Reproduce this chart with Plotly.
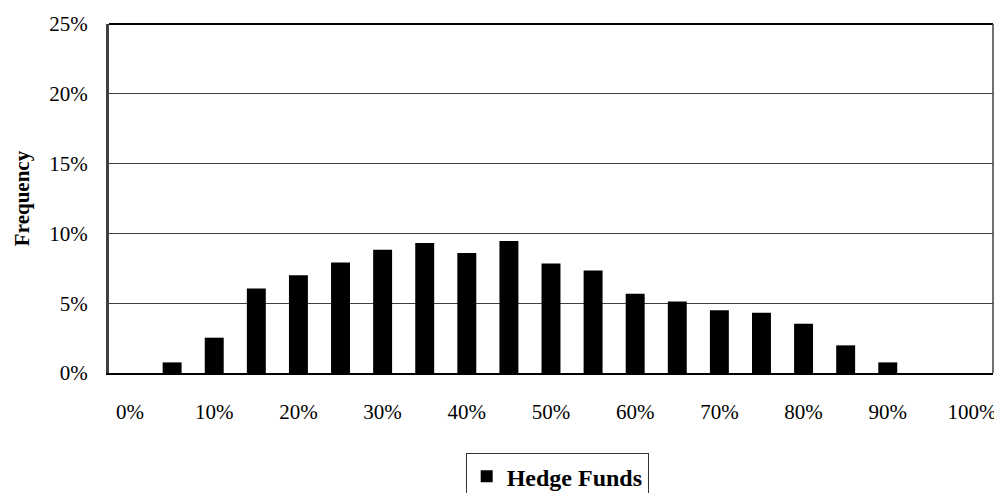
import plotly.graph_objects as go

categories = [f"{v}%" for v in range(0, 101, 5)]
frequency = [0, 0.76, 2.53, 6.05, 7.0, 7.92, 8.82, 9.31, 8.59, 9.45, 7.85,
             7.35, 5.68, 5.13, 4.49, 4.32, 3.53, 1.98, 0.76, 0, 0]
tick_labels = [f"{v}%" for v in range(0, 101, 10)]
y_ticks = [0, 5, 10, 15, 20, 25]
y_tick_text = [f"{v}%" for v in y_ticks]

FONT = "Liberation Serif, Times New Roman, serif"

fig = go.Figure()
fig.add_trace(go.Bar(
    x=categories, y=frequency, name="Hedge Funds",
    marker=dict(color="black", line=dict(width=0)),
    width=0.45,
))

# page body has an 8px margin, so the figure is offset by 8px
fig.update_layout(
    width=994, height=485,
    margin=dict(l=101, r=9, t=15.5, b=119.5, autoexpand=False),
    paper_bgcolor="white", plot_bgcolor="white",
    font=dict(family=FONT, size=22, color="black"),
    showlegend=True,
    legend=dict(
        x=0.507, y=-0.230, xanchor="center", yanchor="top",
        orientation="h",
        bordercolor="#333333", borderwidth=1,
        font=dict(family=FONT, size=24, color="black", weight="bold"),
        itemwidth=30,
    ),
    xaxis=dict(
        type="category", categoryorder="array", categoryarray=categories,
        tickmode="array", tickvals=tick_labels, ticktext=tick_labels,
        showgrid=False, showline=True, linecolor="black", linewidth=2,
        ticks="outside", ticklen=19, tickcolor="rgba(0,0,0,0)",
        mirror=False, zeroline=False,
        tickfont=dict(family=FONT, size=21),
    ),
    yaxis=dict(
        range=[0, 25], tickmode="array", tickvals=y_ticks, ticktext=y_tick_text,
        showgrid=True, gridcolor="#404040", gridwidth=1,
        showline=True, linecolor="#404040", linewidth=3,
        ticks="outside", ticklen=14, tickcolor="rgba(0,0,0,0)",
        zeroline=False,
        title=dict(text="<b>Frequency</b>", standoff=14,
                   font=dict(family=FONT, size=21)),
        tickfont=dict(family=FONT, size=21),
    ),
)

# plot-area border on top and right
fig.add_shape(type="line", xref="paper", yref="paper", x0=0, x1=1, y0=1, y1=1,
              line=dict(color="black", width=2))
fig.add_shape(type="line", xref="paper", yref="paper", x0=1, x1=1, y0=0, y1=1,
              line=dict(color="#404040", width=1.5))

fig.write_html("out.html")
